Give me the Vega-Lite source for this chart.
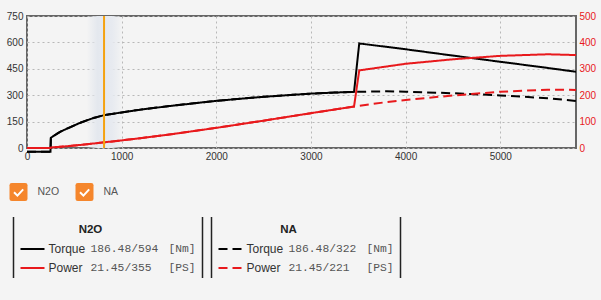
{
  "$schema": "https://vega.github.io/schema/vega-lite/v6.json",
  "background": "#f4f4f4",
  "padding": {"left": 5, "top": 10, "right": 5, "bottom": 22},
  "config": {
    "font": "Liberation Sans",
    "view": {"stroke": "#666", "strokeWidth": 2},
    "axis": {"labelFont": "Liberation Sans", "labelFontSize": 10, "labelColor": "#333", "ticks": false, "domain": false, "title": null, "gridColor": "#b8b8b8", "gridDash": [2, 3], "gridWidth": 1, "labelFlush": false}
  },
  "datasets": {
    "curves": [
      {"mode": "N2O", "rpm": 0, "torque": -22, "power": 0},
      {"mode": "N2O", "rpm": 248, "torque": -22, "power": 0},
      {"mode": "N2O", "rpm": 252, "torque": 58, "power": 2.1},
      {"mode": "N2O", "rpm": 290, "torque": 72, "power": 3.0},
      {"mode": "N2O", "rpm": 350, "torque": 92, "power": 4.6},
      {"mode": "N2O", "rpm": 430, "torque": 112, "power": 6.9},
      {"mode": "N2O", "rpm": 570, "torque": 145, "power": 11.8},
      {"mode": "N2O", "rpm": 700, "torque": 170, "power": 16.9},
      {"mode": "N2O", "rpm": 814, "torque": 186.48, "power": 21.45},
      {"mode": "N2O", "rpm": 1000, "torque": 202, "power": 28.8},
      {"mode": "N2O", "rpm": 1200, "torque": 218, "power": 37.2},
      {"mode": "N2O", "rpm": 1500, "torque": 238, "power": 50.8},
      {"mode": "N2O", "rpm": 2000, "torque": 268, "power": 76.3},
      {"mode": "N2O", "rpm": 2500, "torque": 291, "power": 103.6},
      {"mode": "N2O", "rpm": 3000, "torque": 309, "power": 132},
      {"mode": "N2O", "rpm": 3250, "torque": 315, "power": 145.8},
      {"mode": "N2O", "rpm": 3455, "torque": 319, "power": 157},
      {"mode": "N2O", "rpm": 3510, "torque": 594, "power": 294},
      {"mode": "N2O", "rpm": 4000, "torque": 561, "power": 319},
      {"mode": "N2O", "rpm": 4500, "torque": 525, "power": 336},
      {"mode": "N2O", "rpm": 5000, "torque": 490, "power": 349},
      {"mode": "N2O", "rpm": 5500, "torque": 455, "power": 355},
      {"mode": "N2O", "rpm": 5800, "torque": 433, "power": 352},
      {"mode": "NA", "rpm": 0, "torque": -22, "power": 0},
      {"mode": "NA", "rpm": 248, "torque": -22, "power": 0},
      {"mode": "NA", "rpm": 252, "torque": 58, "power": 2.1},
      {"mode": "NA", "rpm": 290, "torque": 72, "power": 3.0},
      {"mode": "NA", "rpm": 350, "torque": 92, "power": 4.6},
      {"mode": "NA", "rpm": 430, "torque": 112, "power": 6.9},
      {"mode": "NA", "rpm": 570, "torque": 145, "power": 11.8},
      {"mode": "NA", "rpm": 700, "torque": 170, "power": 16.9},
      {"mode": "NA", "rpm": 814, "torque": 186.48, "power": 21.45},
      {"mode": "NA", "rpm": 1000, "torque": 202, "power": 28.8},
      {"mode": "NA", "rpm": 1200, "torque": 218, "power": 37.2},
      {"mode": "NA", "rpm": 1500, "torque": 238, "power": 50.8},
      {"mode": "NA", "rpm": 2000, "torque": 268, "power": 76.3},
      {"mode": "NA", "rpm": 2500, "torque": 291, "power": 103.6},
      {"mode": "NA", "rpm": 3000, "torque": 309, "power": 132},
      {"mode": "NA", "rpm": 3250, "torque": 315, "power": 145.8},
      {"mode": "NA", "rpm": 3455, "torque": 319, "power": 157},
      {"mode": "NA", "rpm": 3800, "torque": 322, "power": 174},
      {"mode": "NA", "rpm": 4000, "torque": 320, "power": 182},
      {"mode": "NA", "rpm": 4500, "torque": 311, "power": 199},
      {"mode": "NA", "rpm": 5000, "torque": 299, "power": 213},
      {"mode": "NA", "rpm": 5500, "torque": 283, "power": 221},
      {"mode": "NA", "rpm": 5800, "torque": 267, "power": 220}
    ],
    "cursor": [{"rpm": 814}],
    "toggles": [{"series": "N2O", "checked": true}, {"series": "NA", "checked": true}],
    "readouts": [
      {"series": "N2O", "metric": "Torque", "reading": "186.48/594", "unit": "[Nm]"},
      {"series": "N2O", "metric": "Power", "reading": "21.45/355", "unit": "[PS]"},
      {"series": "NA", "metric": "Torque", "reading": "186.48/322", "unit": "[Nm]"},
      {"series": "NA", "metric": "Power", "reading": "21.45/221", "unit": "[PS]"}
    ]
  },
  "bounds": "flush",
  "spacing": 44,
  "vconcat": [
    {
      "width": 549,
      "height": 132,
      "layer": [
        {
          "data": {"name": "cursor"},
          "mark": {"type": "rect", "color": {"gradient": "linear", "x1": 0, "y1": 0, "x2": 1, "y2": 0, "stops": [{"offset": 0, "color": "rgba(228,232,238,0)"}, {"offset": 0.3, "color": "#e4e8ee"}, {"offset": 0.7, "color": "#e7eaf0"}, {"offset": 1, "color": "rgba(228,232,238,0)"}]}},
          "encoding": {
            "x": {"datum": 630, "type": "quantitative", "scale": {"domain": [0, 5800], "nice": false}, "axis": {"values": [0, 1000, 2000, 3000, 4000, 5000], "format": "d", "grid": true, "labelPadding": 3}},
            "x2": {"datum": 1010}
          }
        },
        {
          "data": {"name": "curves"},
          "mark": {"type": "line", "color": "#000", "strokeWidth": 2},
          "encoding": {
            "x": {"field": "rpm", "type": "quantitative", "scale": {"domain": [0, 5800], "nice": false}, "axis": {"values": [0, 1000, 2000, 3000, 4000, 5000], "format": "d", "grid": true, "labelPadding": 3}},
            "y": {"field": "torque", "type": "quantitative", "scale": {"domain": [0, 750], "nice": false}, "axis": {"orient": "left", "values": [0, 150, 300, 450, 600, 750], "grid": true, "labelPadding": 4}},
            "strokeDash": {"field": "mode", "type": "nominal", "scale": {"domain": ["N2O", "NA"], "range": [[1, 0], [9, 5]]}, "legend": null}
          }
        },
        {
          "data": {"name": "curves"},
          "mark": {"type": "line", "color": "#e8191c", "strokeWidth": 2},
          "encoding": {
            "x": {"field": "rpm", "type": "quantitative"},
            "y": {"field": "power", "type": "quantitative", "scale": {"domain": [0, 500], "nice": false}, "axis": {"orient": "right", "values": [0, 100, 200, 300, 400, 500], "grid": false, "labelColor": "#e8191c", "labelPadding": 3}},
            "strokeDash": {"field": "mode", "type": "nominal", "scale": {"domain": ["N2O", "NA"], "range": [[1, 0], [9, 5]]}, "legend": null}
          }
        },
        {
          "data": {"name": "cursor"},
          "mark": {"type": "rule", "color": "#f5a20f", "strokeWidth": 2},
          "encoding": {"x": {"field": "rpm", "type": "quantitative"}}
        }
      ],
      "resolve": {"scale": {"y": "independent"}}
    },
    {
      "width": 549,
      "height": 76,
      "view": {"stroke": null},
      "layer": [
        {
          "data": {"name": "toggles"},
          "mark": {"type": "point", "shape": "M-0.75,-1 L0.75,-1 Q1,-1 1,-0.75 L1,0.75 Q1,1 0.75,1 L-0.75,1 Q-1,1 -1,0.75 L-1,-0.75 Q-1,-1 -0.75,-1 Z", "filled": true, "color": "#f5862c", "opacity": 1, "size": 324},
          "encoding": {
            "x": {"field": "series", "type": "nominal", "scale": {"type": "point", "domain": ["N2O", "NA"], "range": [-8.5, 57.5], "padding": 0}, "axis": null},
            "y": {"datum": "check", "type": "nominal", "scale": {"type": "point", "domain": ["check", "gap", "title", "Torque", "Power"], "padding": 0}, "axis": null}
          }
        },
        {
          "data": {"name": "toggles"},
          "mark": {"type": "point", "shape": "M-0.5,0.02 L-0.12,0.4 L0.52,-0.3", "filled": false, "stroke": "#fff", "strokeWidth": 2, "opacity": 1, "size": 324},
          "encoding": {
            "x": {"field": "series", "type": "nominal", "scale": {"type": "point", "domain": ["N2O", "NA"], "range": [-8.5, 57.5], "padding": 0}, "axis": null},
            "y": {"datum": "check", "type": "nominal", "axis": null}
          }
        },
        {
          "data": {"name": "toggles"},
          "mark": {"type": "text", "align": "left", "baseline": "middle", "xOffset": 19, "fontSize": 10.5, "color": "#555"},
          "encoding": {
            "x": {"field": "series", "type": "nominal", "scale": {"type": "point", "domain": ["N2O", "NA"], "range": [-8.5, 57.5], "padding": 0}, "axis": null},
            "y": {"datum": "check", "type": "nominal", "axis": null},
            "text": {"field": "series"}
          }
        },
        {
          "data": {"name": "toggles"},
          "mark": {"type": "rule", "color": "#222", "strokeWidth": 1.5, "yOffset": -13, "y2Offset": 10},
          "encoding": {
            "x": {"field": "series", "type": "nominal", "scale": {"type": "point", "domain": ["N2O", "NA"], "range": [-13.5, 184.5], "padding": 0}, "axis": null},
            "y": {"datum": "title", "type": "nominal", "axis": null},
            "y2": {"datum": "Power"}
          }
        },
        {
          "data": {"name": "toggles"},
          "mark": {"type": "rule", "color": "#222", "strokeWidth": 1.5, "xOffset": 189, "yOffset": -13, "y2Offset": 10},
          "encoding": {
            "x": {"field": "series", "type": "nominal", "scale": {"type": "point", "domain": ["N2O", "NA"], "range": [-13.5, 184.5], "padding": 0}, "axis": null},
            "y": {"datum": "title", "type": "nominal", "axis": null},
            "y2": {"datum": "Power"}
          }
        },
        {
          "data": {"name": "toggles"},
          "mark": {"type": "text", "align": "center", "baseline": "middle", "xOffset": 77, "fontSize": 11.5, "fontWeight": "bold", "color": "#222"},
          "encoding": {
            "x": {"field": "series", "type": "nominal", "scale": {"type": "point", "domain": ["N2O", "NA"], "range": [-13.5, 184.5], "padding": 0}, "axis": null},
            "y": {"datum": "title", "type": "nominal", "axis": null},
            "text": {"field": "series"}
          }
        },
        {
          "data": {"name": "readouts"},
          "mark": {"type": "rule", "strokeWidth": 2, "xOffset": 7, "x2Offset": 31},
          "encoding": {
            "x": {"field": "series", "type": "nominal", "scale": {"type": "point", "domain": ["N2O", "NA"], "range": [-13.5, 184.5], "padding": 0}, "axis": null},
            "x2": {"field": "series"},
            "y": {"field": "metric", "type": "nominal", "axis": null},
            "color": {"field": "metric", "type": "nominal", "scale": {"domain": ["Torque", "Power"], "range": ["#000", "#e8191c"]}, "legend": null},
            "strokeDash": {"field": "series", "type": "nominal", "scale": {"domain": ["N2O", "NA"], "range": [[1, 0], [9, 5]]}, "legend": null}
          }
        },
        {
          "data": {"name": "readouts"},
          "mark": {"type": "text", "align": "left", "baseline": "middle", "xOffset": 35, "fontSize": 12, "color": "#333"},
          "encoding": {
            "x": {"field": "series", "type": "nominal", "scale": {"type": "point", "domain": ["N2O", "NA"], "range": [-13.5, 184.5], "padding": 0}, "axis": null},
            "y": {"field": "metric", "type": "nominal", "axis": null},
            "text": {"field": "metric"}
          }
        },
        {
          "data": {"name": "readouts"},
          "mark": {"type": "text", "align": "left", "baseline": "middle", "xOffset": 77, "font": "Liberation Mono", "fontSize": 11.3, "color": "#555"},
          "encoding": {
            "x": {"field": "series", "type": "nominal", "scale": {"type": "point", "domain": ["N2O", "NA"], "range": [-13.5, 184.5], "padding": 0}, "axis": null},
            "y": {"field": "metric", "type": "nominal", "axis": null},
            "text": {"field": "reading"}
          }
        },
        {
          "data": {"name": "readouts"},
          "mark": {"type": "text", "align": "left", "baseline": "middle", "xOffset": 155, "font": "Liberation Mono", "fontSize": 11.3, "color": "#555"},
          "encoding": {
            "x": {"field": "series", "type": "nominal", "scale": {"type": "point", "domain": ["N2O", "NA"], "range": [-13.5, 184.5], "padding": 0}, "axis": null},
            "y": {"field": "metric", "type": "nominal", "axis": null},
            "text": {"field": "unit"}
          }
        }
      ],
      "resolve": {"scale": {"x": "independent"}}
    }
  ]
}
